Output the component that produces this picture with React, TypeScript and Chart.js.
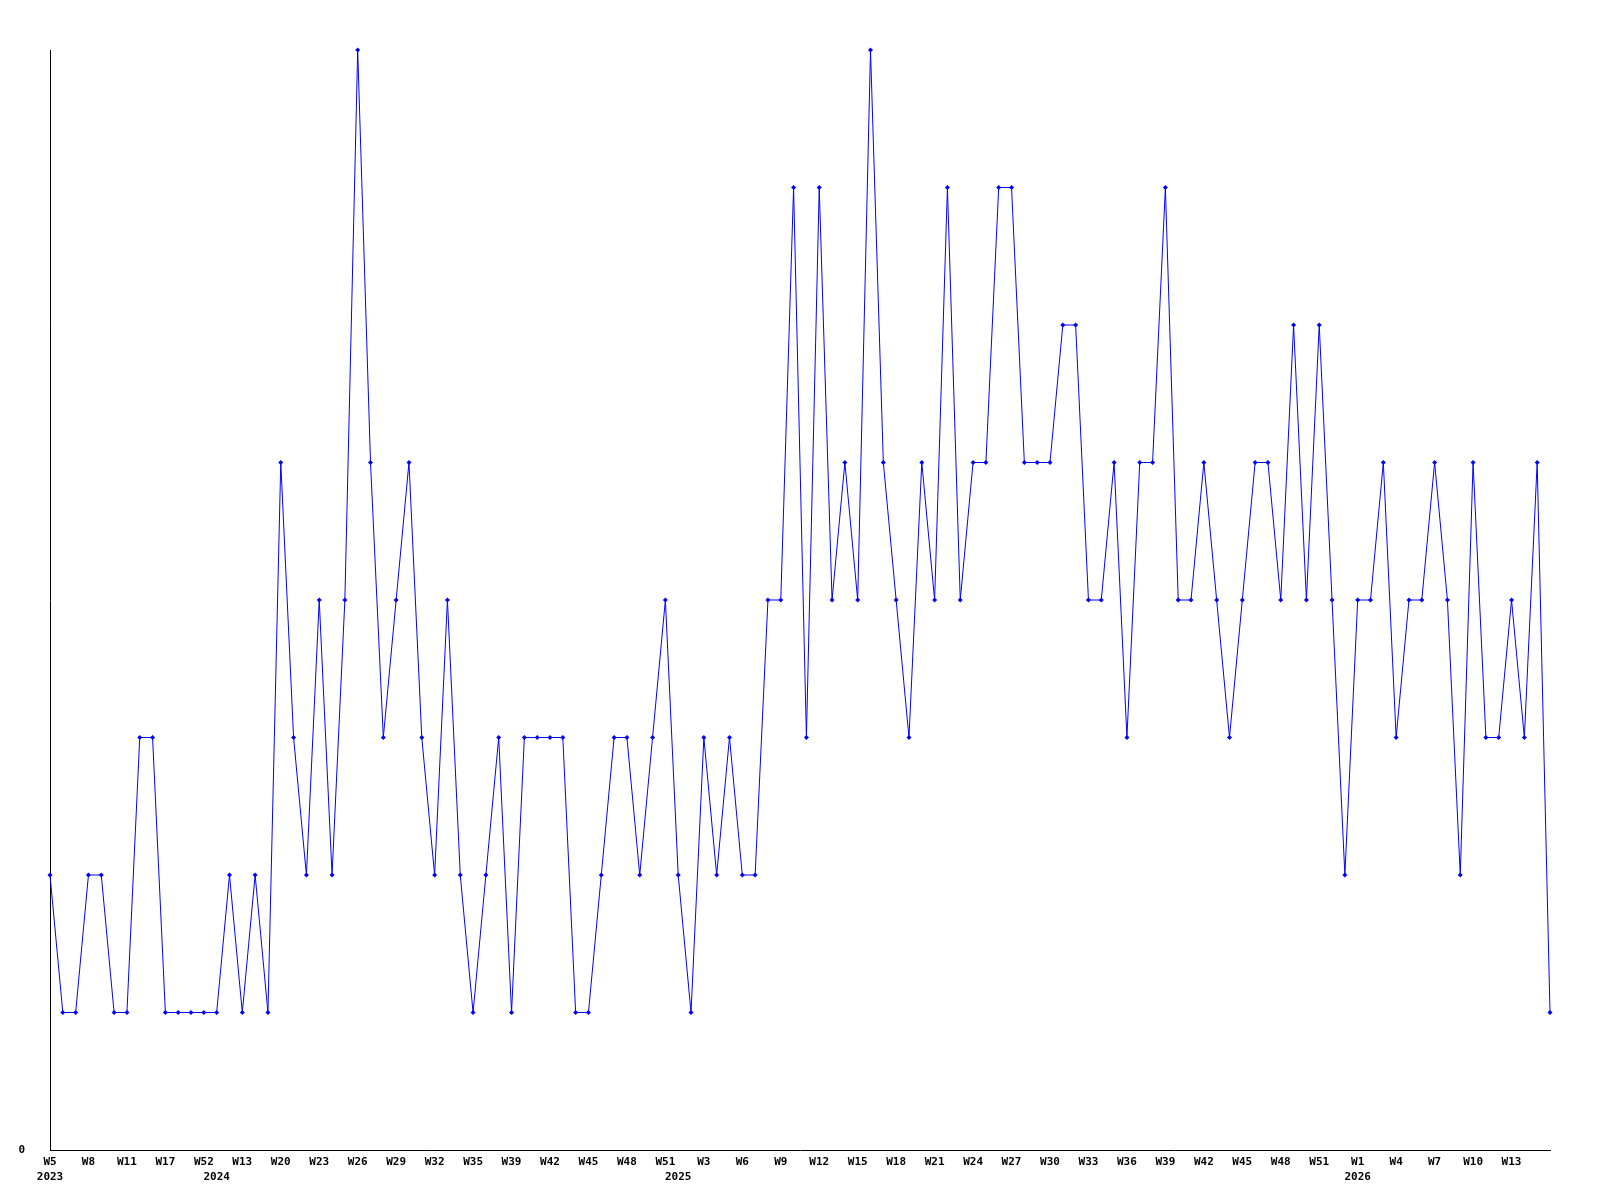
import React, { useEffect, useRef } from "react";
import { Chart, registerables } from "chart.js";

Chart.register(...registerables);

// Week category for each point (weeks in the source data are not contiguous)
const weeks: string[] = [
  "W5", "W6", "W7", "W8", "W9", "W10", "W11", "W12", "W14", "W17",
  "W20", "W34", "W52", "W1", "W7", "W13", "W16", "W19", "W20", "W21",
  "W22", "W23", "W24", "W25", "W26", "W27", "W28", "W29", "W30", "W31",
  "W32", "W33", "W34", "W35", "W36", "W38", "W39", "W40", "W41", "W42",
  "W43", "W44", "W45", "W46", "W47", "W48", "W49", "W50", "W51", "W1",
  "W2", "W3", "W4", "W5", "W6", "W7", "W8", "W9", "W10", "W11",
  "W12", "W13", "W14", "W15", "W16", "W17", "W18", "W19", "W20", "W21",
  "W22", "W23", "W24", "W25", "W26", "W27", "W28", "W29", "W30", "W31",
  "W32", "W33", "W34", "W35", "W36", "W37", "W38", "W39", "W40", "W41",
  "W42", "W43", "W44", "W45", "W46", "W47", "W48", "W49", "W50", "W51",
  "W52", "W53", "W1", "W2", "W3", "W4", "W5", "W6", "W7", "W8",
  "W9", "W10", "W11", "W12", "W13", "W14", "W15", "W16",
];

// Year label shown under the first week of each year
const yearStarts: Record<number, string> = {
  0: "2023",
  13: "2024",
  49: "2025",
  102: "2026",
};

// Weekly counts
const counts: number[] = [
  2, 1, 1, 2, 2, 1, 1, 3, 3, 1,
  1, 1, 1, 1, 2, 1, 2, 1, 5, 3,
  2, 4, 2, 4, 8, 5, 3, 4, 5, 3,
  2, 4, 2, 1, 2, 3, 1, 3, 3, 3,
  3, 1, 1, 2, 3, 3, 2, 3, 4, 2,
  1, 3, 2, 3, 2, 2, 4, 4, 7, 3,
  7, 4, 5, 4, 8, 5, 4, 3, 5, 4,
  7, 4, 5, 5, 7, 7, 5, 5, 5, 6,
  6, 4, 4, 5, 3, 5, 5, 7, 4, 4,
  5, 4, 3, 4, 5, 5, 4, 6, 4, 6,
  4, 2, 4, 4, 5, 3, 4, 4, 5, 4,
  2, 5, 3, 3, 4, 3, 5, 1,
];

const Y_MIN = 0;
const Y_MAX = 8;
const TICK_EVERY = 3;

export default function App() {
  const canvasRef = useRef<HTMLCanvasElement | null>(null);

  useEffect(() => {
    if (!canvasRef.current) return;
    const font = { family: "'DejaVu Sans Mono', monospace", size: 11, weight: "bold" as const, lineHeight: 1.32 };
    const chart = new Chart(canvasRef.current, {
      type: "line",
      data: {
        labels: weeks,
        datasets: [
          {
            data: counts,
            borderColor: "#0000ff",
            backgroundColor: "#0000ff",
            borderWidth: 1,
            tension: 0,
            pointStyle: "rectRot",
            pointRadius: 2.5,
            pointBorderWidth: 0,
            pointBackgroundColor: "#0000ff",
            clip: false as any,
          },
        ],
      },
      options: {
        animation: false,
        responsive: false,
        maintainAspectRatio: false,
        layout: { padding: { top: 50, right: 50, left: 0, bottom: 0 } },
        plugins: {
          legend: { display: false },
          tooltip: { enabled: false },
        },
        scales: {
          x: {
            type: "category",
            offset: false,
            grid: { display: false, drawTicks: false },
            border: { display: true, color: "#000000", width: 1 },
            afterFit: (scale: any) => {
              scale.height = 50;
            },
            ticks: {
              autoSkip: false,
              maxRotation: 0,
              minRotation: 0,
              padding: 5,
              color: "#000000",
              font,
              callback: (_v: any, index: number) => {
                const wk = index % TICK_EVERY === 0 && index < weeks.length - 1 ? weeks[index] : "";
                const yr = yearStarts[index];
                return yr ? [wk, yr] : wk;
              },
            },
          },
          y: {
            min: Y_MIN,
            max: Y_MAX,
            grid: { display: false, drawTicks: false },
            border: { display: true, color: "#000000", width: 1 },
            afterFit: (scale: any) => {
              scale.width = 50;
            },
            ticks: {
              stepSize: 1,
              padding: 25,
              color: "#000000",
              font,
              callback: (v: any) => (v === 0 ? "0" : ""),
            },
          },
        },
      },
    });
    return () => chart.destroy();
  }, []);

  return (
    <div style={{ position: "absolute", left: 0, top: 0, width: 1600, height: 1200, background: "#ffffff" }}>
      <canvas ref={canvasRef} width={1600} height={1200} style={{ width: 1600, height: 1200, display: "block" }} />
    </div>
  );
}
